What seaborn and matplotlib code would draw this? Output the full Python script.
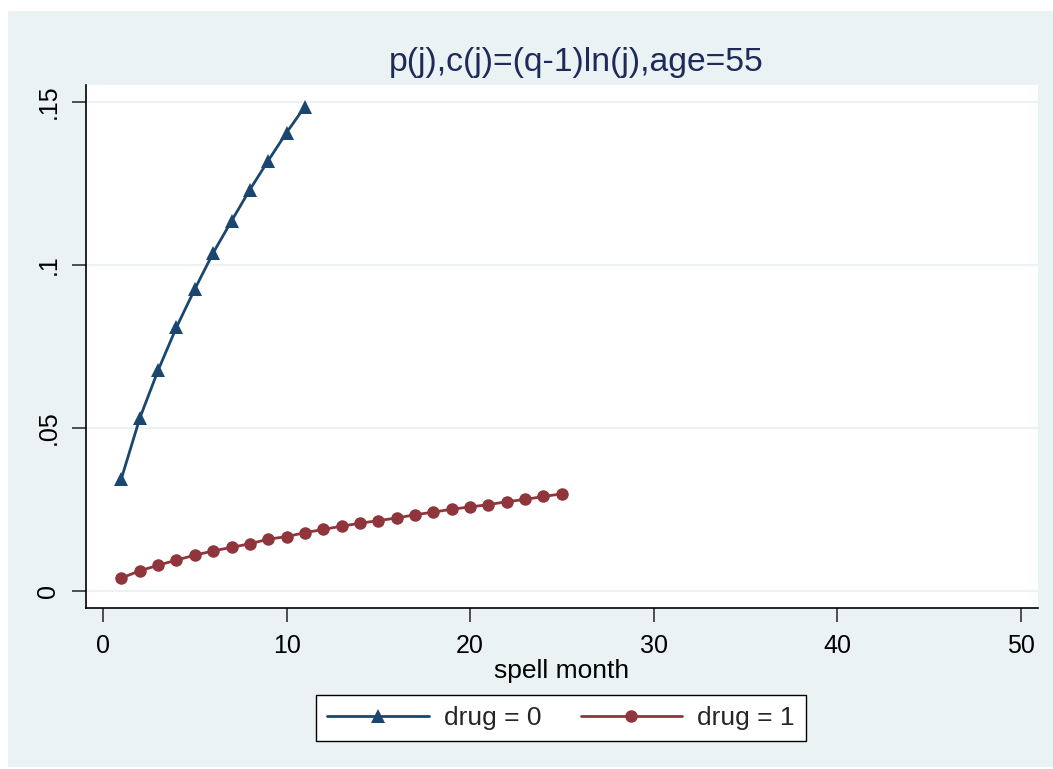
import numpy as np
import pandas as pd
import matplotlib
matplotlib.use("Agg")
import matplotlib.pyplot as plt
from matplotlib.patches import Rectangle
import seaborn as sns

# ---- data ----
month_drug0 = list(range(1, 12))
p_drug0 = [0.0344, 0.0529, 0.0676, 0.0808, 0.0925, 0.1036, 0.1134,
           0.1230, 0.1319, 0.1405, 0.1485]
month_drug1 = list(range(1, 26))
p_drug1 = [0.0039, 0.0061, 0.0078, 0.0094, 0.0109, 0.0122, 0.0133, 0.0144,
           0.0158, 0.0166, 0.0178, 0.0188, 0.0198, 0.0207, 0.0215, 0.0223,
           0.0233, 0.0241, 0.0250, 0.0257, 0.0264, 0.0273, 0.0280, 0.0289,
           0.0297]
x_ticks = [0, 10, 20, 30, 40, 50]
y_ticks = [0, 0.05, 0.10, 0.15]
y_tick_labels = ["0", ".05", ".1", ".15"]
title = "p(j),c(j)=(q-1)ln(j),age=55"
x_label = "spell month"
legend_labels = ["drug = 0", "drug = 1"]

df0 = pd.DataFrame({"month": month_drug0, "p": p_drug0})
df1 = pd.DataFrame({"month": month_drug1, "p": p_drug1})

sns.set_theme(style="white")
plt.rcParams["font.family"] = ["Liberation Sans", "DejaVu Sans"]

W, H = 1053, 769
fig = plt.figure(figsize=(W / 100, H / 100), dpi=100, facecolor="white")
bg = "#EAF2F3"
rect = Rectangle((8 / W, 2 / H), (W - 8) / W, (767 - 11) / H,
                 transform=fig.transFigure, facecolor=bg,
                 edgecolor="none", zorder=-10)
fig.add_artist(rect)

ax = fig.add_axes([86 / W, (H - 608) / H, (1038 - 86) / W, (608 - 85) / H])
ax.set_zorder(1)
ax.set_facecolor("white")

navy = "#1a476f"
maroon = "#90353b"
sns.lineplot(data=df0, x="month", y="p", ax=ax, color=navy, linewidth=2,
             marker="^", markersize=10, markeredgewidth=0, label=legend_labels[0])
sns.lineplot(data=df1, x="month", y="p", ax=ax, color=maroon, linewidth=2,
             marker="o", markersize=9, markeredgewidth=0, label=legend_labels[1])

ax.set_xlim(-0.93, 50.95)
ax.set_ylim(-0.0053, 0.1551)
ax.set_xticks(x_ticks)
ax.set_xticklabels([str(t) for t in x_ticks])
ax.set_yticks(y_ticks)
ax.set_yticklabels(y_tick_labels, rotation=90, va="center")
ax.yaxis.grid(True, color=bg, linewidth=1.5)
ax.xaxis.grid(False)
ax.set_axisbelow(True)
for s in ["top", "right"]:
    ax.spines[s].set_visible(False)
for s in ["left", "bottom"]:
    ax.spines[s].set_color("black")
    ax.spines[s].set_linewidth(1.2)
ax.tick_params(axis="both", which="major", direction="out", length=10, width=1.2,
               color="#333333", labelsize=18, labelcolor="black", pad=8.5,
               bottom=True, left=True)
ax.set_xlabel(x_label, fontsize=19, color="black", labelpad=1)
ax.set_ylabel("")

fig.text(576 / W, 1 - 63 / H, title, ha="center", va="center", fontsize=24.3,
         color="#1e2a5a")

leg = ax.legend(loc="center", bbox_to_anchor=(561 / W, 1 - 718 / H),
                bbox_transform=fig.transFigure, ncol=2, fontsize=19,
                frameon=True, fancybox=False, edgecolor="black",
                facecolor="white", framealpha=1, handlelength=3.86,
                columnspacing=1.48, borderpad=0.42, handletextpad=0.57)
leg.get_frame().set_linewidth(1.0)

fig.savefig("out.png", dpi=100, facecolor=fig.get_facecolor())
